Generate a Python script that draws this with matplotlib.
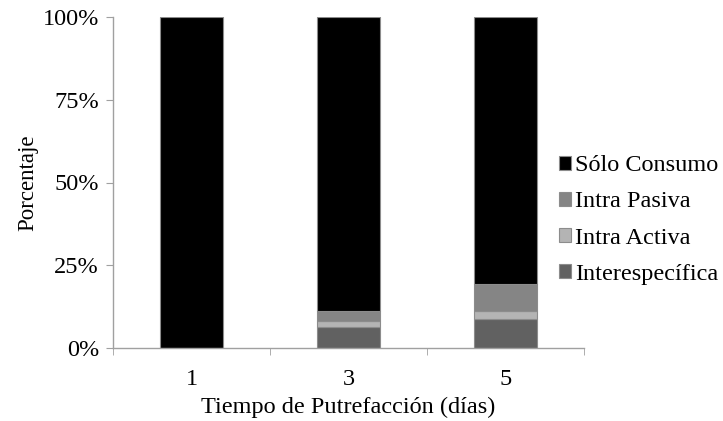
import matplotlib
matplotlib.use("Agg")
import matplotlib.pyplot as plt
import numpy as np

plt.rcParams['font.family'] = ['Liberation Serif', 'DejaVu Serif']

dias = ["1", "3", "5"]
interespecifica = [0.0, 6.2, 8.7]
intra_activa = [0.0, 2.0, 2.6]
intra_pasiva = [0.0, 3.0, 8.0]
solo_consumo = [100.0, 88.8, 80.7]

series = [
    ("Interespecífica", interespecifica, "#616161"),
    ("Intra Activa", intra_activa, "#b4b4b4"),
    ("Intra Pasiva", intra_pasiva, "#858585"),
    ("Sólo Consumo", solo_consumo, "#000000"),
]

fig = plt.figure(figsize=(7.23, 4.21), dpi=100)
ax = fig.add_axes([113 / 723, 73 / 421, 471 / 723, 331 / 421])

x = np.arange(len(dias))
bottom = np.zeros(len(dias))
handles = []
for name, vals, col in series:
    vals = np.array(vals)
    h = ax.bar(x, vals, width=0.4, bottom=bottom, color=col,
               edgecolor="#8c8c8c", linewidth=0.8, label=name)
    handles.append(h)
    bottom += vals

ax.set_xlim(-0.5, 2.5)
ax.set_ylim(0, 100)
ax.set_yticks([0, 25, 50, 75, 100])
ax.set_yticklabels(["0%", "25%", "50%", "75%", "100%"])
ax.set_xticks(x)
ax.set_xticklabels(dias)
ax.set_xticks([-0.5, 0.5, 1.5, 2.5], minor=True)
ax.tick_params(axis="x", which="major", length=0, pad=15, labelsize=17.5)
ax.tick_params(axis="x", which="minor", length=5, direction="out", color="#a0a0a0")
ax.tick_params(axis="y", length=5, direction="out", color="#a0a0a0", labelsize=17.5, pad=5)

for s in ["top", "right"]:
    ax.spines[s].set_visible(False)
for s in ["left", "bottom"]:
    ax.spines[s].set_color("#a0a0a0")
    ax.spines[s].set_linewidth(1.0)

ax.set_xlabel("Tiempo de Putrefacción (días)", fontsize=17.5, labelpad=5)
ax.set_ylabel("Porcentaje", fontsize=16.5, labelpad=3)

leg = fig.legend(handles[::-1], [s[0] for s in series][::-1],
                 loc="center left", bbox_to_anchor=(559 / 723, 1 - 220 / 421),
                 frameon=False, fontsize=17.5, handlelength=0.5, handleheight=0.5,
                 handletextpad=0.15, labelspacing=0.62, borderaxespad=0,
                 borderpad=0)

fig.savefig("out.png", dpi=100)
